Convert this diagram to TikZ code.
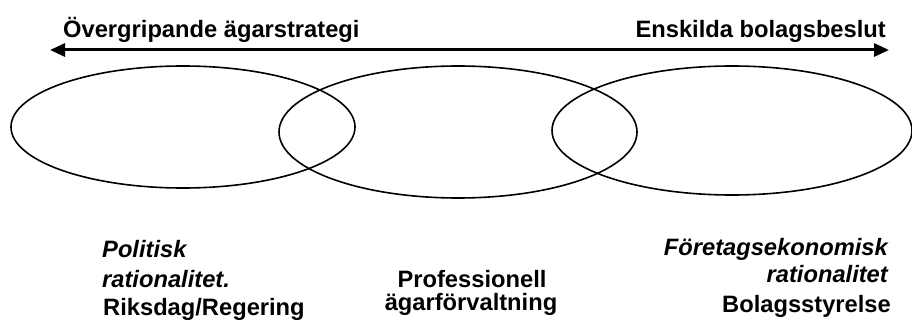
\documentclass[tikz,border=0pt]{standalone}
\usepackage{fontspec}
\setmainfont{Liberation Sans}
\usetikzlibrary{shapes.geometric,arrows.meta}
\begin{document}
\begin{tikzpicture}[x=1pt,y=-1pt,
  oval/.style={draw, ellipse, line width=1.6pt, inner sep=0pt},
  lbl/.style={inner sep=0pt, font=\fontsize{23.7}{28}\selectfont\bfseries},
  ilbl/.style={lbl, font=\fontsize{23.7}{28}\selectfont\bfseries\itshape}]
\useasboundingbox (0,0) rectangle (912,331);
\node[oval, minimum width=344pt, minimum height=122pt] (e1) at (183,127) {};
\node[oval, minimum width=358pt, minimum height=132pt] (e2) at (458,132) {};
\node[oval, minimum width=360pt, minimum height=129pt] (e3) at (732,130.5) {};
\coordinate (a1) at (50,50);
\coordinate (a2) at (889,50);
\draw[line width=3pt, {Triangle[length=15pt,width=13pt]}-{Triangle[length=15pt,width=13pt]}] (a1) -- (a2);
\node[lbl, anchor=base west] (t1) at (63,38) {Övergripande ägarstrategi};
\node[lbl, anchor=base east] (t2) at (886,38) {Enskilda bolagsbeslut};
\node[ilbl, anchor=base west] (l1) at (102,257) {Politisk};
\node[ilbl, anchor=base west] (l2) at (102,287) {rationalitet.};
\node[lbl, anchor=base west] (l3) at (103,315) {Riksdag/Regering};
\node[lbl, anchor=base] (m1) at (472,287) {Professionell};
\node[lbl, anchor=base] (m2) at (471,310) {ägarförvaltning};
\node[ilbl, anchor=base east] (r1) at (888,255) {Företagsekonomisk};
\node[ilbl, anchor=base east] (r2) at (888,282) {rationalitet};
\node[lbl, anchor=base west] (r3) at (722,312) {Bolagsstyrelse};
\end{tikzpicture}
\end{document}
